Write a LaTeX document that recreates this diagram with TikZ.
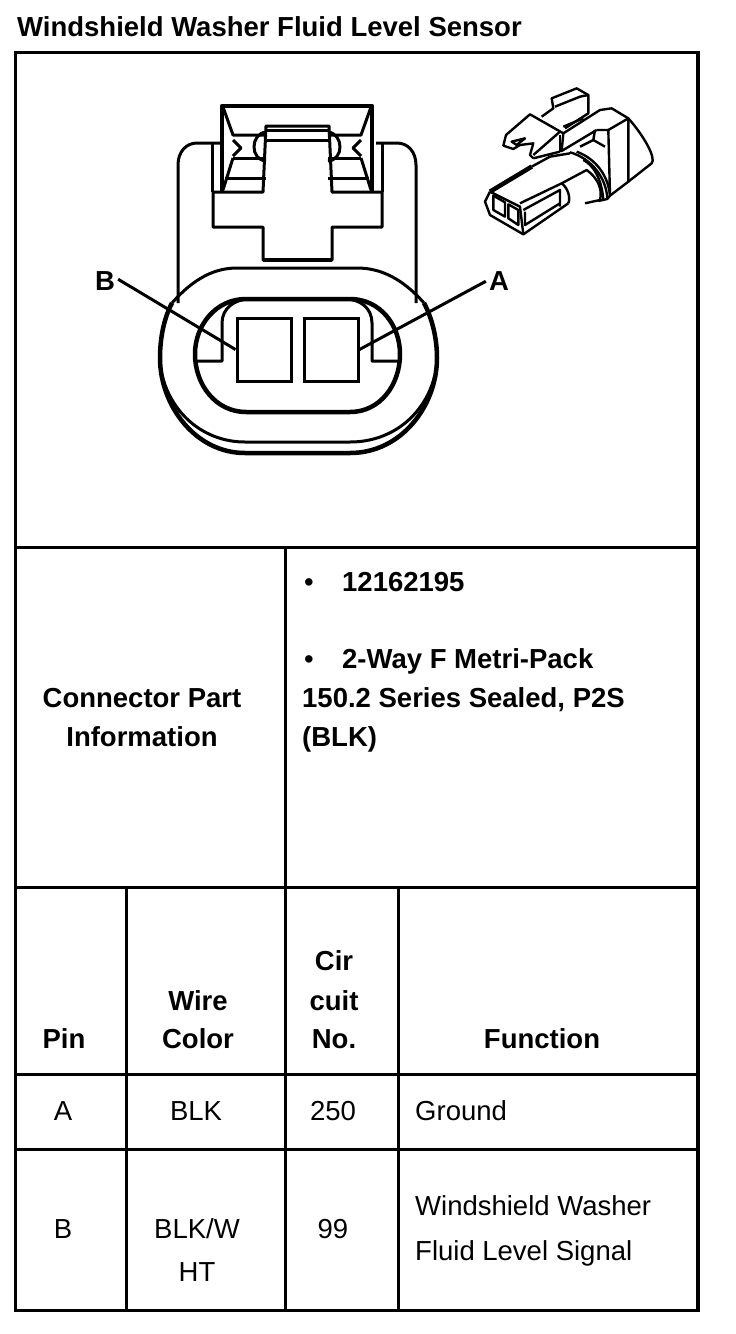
\documentclass[tikz,border=0pt]{standalone}
\usepackage{fontspec}
\setmainfont{Liberation Sans}
\tikzset{
  hdr/.style={font=\fontsize{27.5}{27.5}\selectfont\bfseries, inner sep=0pt, anchor=base, yshift=-0.7pt},
  hdrl/.style={hdr, anchor=base west},
  cell/.style={font=\fontsize{27.5}{27.5}\selectfont, inner sep=0pt, anchor=base, yshift=-0.7pt},
  celll/.style={cell, anchor=base west},
  rule/.style={line width=3pt},
  thin part/.style={line width=2pt, line join=round},
  part/.style={line width=3pt, line join=round},
  heavy/.style={line width=4.5pt, line join=round},
  small part/.style={line width=2.4pt, line join=round},
  pinbox/.style={draw, line width=3pt, minimum width=54pt, minimum height=63pt, inner sep=0pt}
}
\begin{document}
\begin{tikzpicture}[x=1pt,y=-1pt]
\useasboundingbox (0,0) rectangle (736,1334);

\node[hdrl] (title) at (17,36) {Windshield Washer Fluid Level Sensor};

% table frame
\draw[rule] (15,52) rectangle (698,1310);
\draw[line width=4.5pt] (698,52) -- (698,1310);
\draw[rule] (15,547) -- (698,547);
\draw[rule] (15,887) -- (698,887);
\draw[rule] (15,1074) -- (698,1074);
\draw[rule] (15,1149) -- (698,1149);
\draw[rule] (285,547) -- (285,1310);
\draw[rule] (126,887) -- (126,1310);
\draw[rule] (398,887) -- (398,1310);

% connector face
\draw[part] (178,303) -- (178,165) .. controls (178,152) and (186,143) .. (197,143) -- (220,143);
\draw[part] (416,303) -- (416,165) .. controls (416,152) and (408,143) .. (397,143) -- (376,143);
\draw[part] (212,143) -- (212,192);
\draw[part] (382,143) -- (382,192);
\draw[heavy] (222,192) -- (222,106) -- (372,106) -- (372,192);
\draw[part] (213,192) -- (263,192) -- (266,126) -- (329,126) -- (332,192) -- (382,192) -- (382,227) -- (332,227) -- (332,260) -- (263,260) -- (263,227) -- (213,227) -- cycle;
\draw[heavy] (263,260) -- (332,260);
\draw[part] (266,130) -- (329,130);
\draw[part] (266,140) -- (329,140);
\foreach \m in {1,-1} {
  \begin{scope}[shift={(297,0)},xscale=\m]
    \draw[part] (-74,107) -- (-64,135) -- (-31,135);
    \draw[part] (-64,158) -- (-31,158);
    \draw[part] (-64,158) -- (-74,190);
    \draw[part] (-72,178) -- (-31,178);
    \draw[part] (-64,140) -- (-56,148) -- (-64,156);
    \draw[part] (-31,132) .. controls (-47,134) and (-47,160) .. (-31,161);
  \end{scope}
}

% seal ovals
\draw[part] (172,303) .. controls (194,278) and (215,268) .. (237,268) -- (357,268) .. controls (380,268) and (402,278) .. (424,303);
\draw[heavy] (172,303) .. controls (164,318) and (160,338) .. (160,358) .. controls (160,405) and (195,453) .. (245,453) -- (350,453) .. controls (402,453) and (437,405) .. (437,358) .. controls (437,338) and (432,318) .. (424,303);
\draw[part] (162,375) .. controls (172,415) and (205,442) .. (245,442) -- (350,442) .. controls (392,442) and (425,415) .. (435,375);
\draw[heavy] (246,299) -- (350,299) .. controls (380,299) and (400,325) .. (400,354) .. controls (400,385) and (380,412) .. (350,412) -- (246,412) .. controls (216,412) and (195,385) .. (195,354) .. controls (195,325) and (216,299) .. (246,299) -- cycle;
\draw[part] (195,361) -- (222,361) -- (222,323) .. controls (222,308) and (235,299) .. (250,299);
\draw[part] (400,361) -- (372,361) -- (372,323) .. controls (372,308) and (360,299) .. (345,299);

\node[pinbox, fill=white] (pinb) at (264,349.5) {};
\node[pinbox, fill=white] (pina) at (331,349.5) {};

\node[hdr] (lblb) at (105,290) {B};
\node[hdr] (lbla) at (499,290) {A};
\draw[part] (lblb.east) ++(3,-2) coordinate (startb) (startb) -- (pinb.west);
\draw[part] (lbla.west) ++(-3,0) coordinate (starta) (starta) -- (pina.east);

% small perspective view
\begin{scope}[shift={(470,75)},x=0.3333pt,y=-0.3333pt]
  \draw[small part] (60,350) -- (45,380) -- (60,420) -- (160,478) -- (295,385);
  \draw[small part] (60,350) -- (150,395) -- (160,478);
  \draw[heavy] (60,350) -- (185,275);
  \draw[small part] (185,275) -- (240,245) -- (300,235);
  \draw[small part] (70,362) -- (70,405) -- (105,425) -- (105,382) -- cycle;
  \draw[small part] (115,388) -- (115,430) -- (145,450) -- (145,405) -- cycle;
  \draw[small part] (150,385) -- (275,325) .. controls (295,340) and (302,370) .. (295,385);
  \draw[small part] (160,405) -- (270,345) -- (270,395);
  \draw[small part] (165,410) -- (165,450) -- (270,385);
  \draw[small part] (275,325) -- (350,285) .. controls (385,310) and (398,345) .. (390,375) -- (345,385);
  \draw[small part] (300,232) .. controls (365,250) and (410,310) .. (412,372) -- (385,378);
  \draw[small part] (320,230) .. controls (375,250) and (415,300) .. (420,362) -- (412,372);
  \draw[small part] (340,255) .. controls (370,270) and (395,310) .. (400,375);
  \draw[small part] (420,362) -- (475,320) -- (475,130) -- (425,100) -- (390,105) -- (280,175) -- (275,228) -- (380,165);
  \draw[small part] (380,165) -- (415,165) -- (420,360);
  \draw[small part] (415,165) -- (475,130);
  \draw[small part] (475,130) .. controls (520,180) and (560,250) .. (545,265) -- (475,320);
  \draw[small part] (375,165) -- (370,195) -- (405,215);
  \draw[small part] (330,215) -- (370,195);
  \draw[small part] (280,175) -- (180,118) -- (108,180) -- (100,212) -- (130,222) -- (150,210) -- (190,205) -- (180,240) -- (190,250);
  \draw[small part] (190,240) -- (270,170);
  \draw[small part] (270,180) -- (270,230);
  \draw[small part] (190,250) -- (270,230);
  \draw[small part] (215,125) -- (250,100) -- (245,70) -- (320,40) -- (355,60) -- (355,115) -- (285,160);
  \draw[small part] (255,95) -- (330,65) -- (355,60);
  \draw[small part] (125,200) -- (165,190) -- (140,210) -- cycle;
  \draw[small part] (280,155) -- (340,130);
\end{scope}

% connector part information
\node[hdr] (info1) at (142,707) {Connector Part};
\node[hdr] (info2) at (142,746) {Information};
\node[cell] (bul1) at (309,591) {\textbullet};
\node[hdrl] (part1) at (342,591) {12162195};
\node[cell] (bul2) at (309,668) {\textbullet};
\node[hdrl] (part2) at (342,668) {2-Way F Metri-Pack};
\node[hdrl] (part3) at (302,707) {150.2 Series Sealed, P2S};
\node[hdrl] (part4) at (302,746) {(BLK)};

% header row
\node[hdr] (pin) at (64,1048) {Pin};
\node[hdr] (wire1) at (198,1010) {Wire};
\node[hdr] (wire2) at (198,1048) {Color};
\node[hdr] (cir1) at (334,970) {Cir};
\node[hdr] (cir2) at (334,1010) {cuit};
\node[hdr] (cir3) at (334,1048) {No.};
\node[hdr] (func) at (542,1048) {Function};

% pin rows
\node[cell] (rowa1) at (63,1120) {A};
\node[cell] (rowa2) at (196,1120) {BLK};
\node[cell] (rowa3) at (333,1120) {250};
\node[celll] (rowa4) at (415,1120) {Ground};
\node[cell] (rowb1) at (63,1238) {B};
\node[cell] (rowb2) at (197,1238) {BLK/W};
\node[cell] (rowb5) at (197,1281) {HT};
\node[cell] (rowb3) at (333,1238) {99};
\node[celll] (rowb4) at (415,1215) {Windshield Washer};
\node[celll] (rowb6) at (415,1260) {Fluid Level Signal};
\end{tikzpicture}
\end{document}
